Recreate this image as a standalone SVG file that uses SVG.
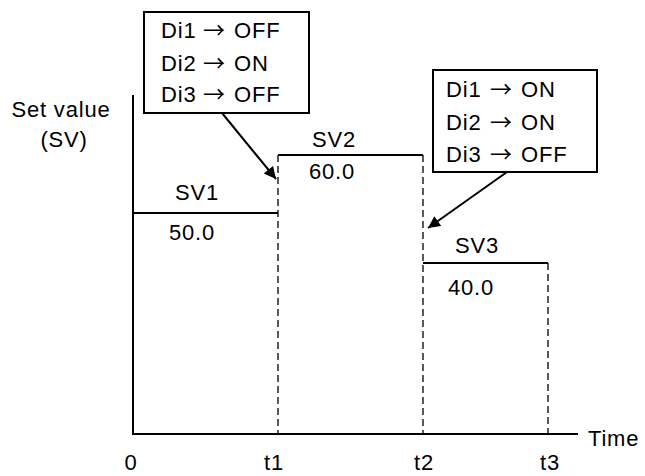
<svg xmlns="http://www.w3.org/2000/svg" width="645" height="476" viewBox="0 0 645 476">
<style>
text{font-family:"Liberation Sans",Arial,sans-serif;font-size:22px;fill:#000;letter-spacing:0.8px}
.m{text-anchor:middle}
.ar{font-family:"Noto Sans CJK JP","DejaVu Sans",sans-serif;font-size:22px;letter-spacing:0}
.ax{stroke:#000;stroke-width:2;fill:none}
.ln{stroke:#000;stroke-width:1.8;fill:none}
.dash{stroke:#000;stroke-width:1.3;stroke-dasharray:7 4;fill:none}
.box{stroke:#000;stroke-width:2;fill:#fff}
.arr{stroke:#000;stroke-width:2;fill:none;marker-end:url(#ah)}
</style>
<defs>
<marker id="ah" viewBox="0 0 10 10" refX="10" refY="5" markerWidth="7.5" markerHeight="6" markerUnits="strokeWidth" orient="auto">
<path d="M0,0 L10,5 L0,10 z" fill="#000"/>
</marker>
</defs>
<g id="axes">
<path class="ax" d="M133,95 V434 H578"/>
<text x="61" y="117" class="m">Set value</text>
<text x="64" y="147" class="m">(SV)</text>
<text x="588" y="446">Time</text>
<text x="131" y="470" class="m">0</text>
<text x="274" y="470" class="m">t1</text>
<text x="424" y="470" class="m">t2</text>
<text x="550" y="470" class="m">t3</text>
</g>
<g id="sv1">
<path class="ln" d="M133,213 H278"/>
<text x="197" y="200" class="m">SV1</text>
<text x="192" y="240" class="m">50.0</text>
</g>
<g id="sv2">
<path class="ln" d="M278,155 H423"/>
<text x="334" y="147" class="m">SV2</text>
<text x="332" y="179" class="m">60.0</text>
</g>
<g id="sv3">
<path class="ln" d="M423,263 H548"/>
<text x="477" y="253" class="m">SV3</text>
<text x="471" y="295" class="m">40.0</text>
</g>
<g id="dashes">
<path class="dash" d="M278,155 V434"/>
<path class="dash" d="M423,155 V434"/>
<path class="dash" d="M548,263 V434"/>
</g>
<g id="box1">
<rect class="box" x="144" y="12" width="165" height="101"/>
<text y="38"><tspan x="161">Di1</tspan><tspan class="ar" x="203">→</tspan><tspan x="234">OFF</tspan></text>
<text y="71"><tspan x="161">Di2</tspan><tspan class="ar" x="203">→</tspan><tspan x="234">ON</tspan></text>
<text y="102"><tspan x="161">Di3</tspan><tspan class="ar" x="203">→</tspan><tspan x="234">OFF</tspan></text>
</g>
<g id="box2">
<rect class="box" x="433" y="70" width="164" height="102"/>
<text y="97"><tspan x="446">Di1</tspan><tspan class="ar" x="490">→</tspan><tspan x="521">ON</tspan></text>
<text y="130"><tspan x="446">Di2</tspan><tspan class="ar" x="490">→</tspan><tspan x="521">ON</tspan></text>
<text y="162"><tspan x="446">Di3</tspan><tspan class="ar" x="490">→</tspan><tspan x="521">OFF</tspan></text>
</g>
<g id="connectors">
<path class="arr" d="M222,113 L276,179"/>
<path class="arr" d="M507,172 L428,228"/>
</g>
</svg>
